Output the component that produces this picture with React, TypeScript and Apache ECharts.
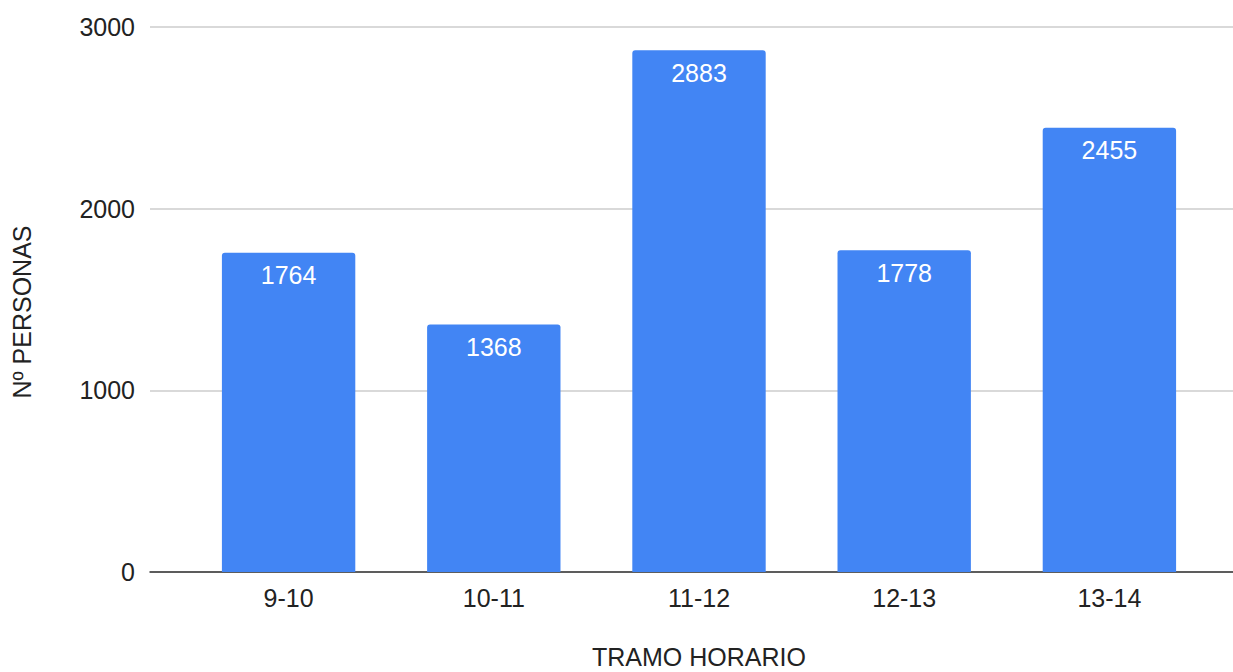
import React, { useEffect, useRef } from "react";
import * as echarts from "echarts";

const categories = ["9-10", "10-11", "11-12", "12-13", "13-14"];
const personas = [1764, 1368, 2883, 1778, 2455];
const yTicks = { min: 0, max: 3000, interval: 1000 };
const xTitle = "TRAMO HORARIO";
const yTitle = "Nº PERSONAS";

const FONT = "'Liberation Sans', Arial, sans-serif";
const TEXT = "#222222";
const FS = 25;

export default function App() {
  const ref = useRef<HTMLDivElement>(null);
  useEffect(() => {
    if (!ref.current) return;
    const chart = echarts.init(ref.current, undefined, { renderer: "svg" });
    const bottom = 100;
    chart.setOption({
      animation: false,
      backgroundColor: "#ffffff",
      textStyle: { fontFamily: FONT },
      grid: [
        { left: 150, right: 0, top: 27, bottom, outerBoundsMode: "none", containLabel: false },
        { left: 186, right: 21, top: 29, bottom, outerBoundsMode: "none", containLabel: false },
      ],
      xAxis: [
        {
          gridIndex: 0,
          type: "value",
          min: 0,
          max: 1,
          axisLine: { show: true, lineStyle: { color: "#333333", width: 1.5 } },
          axisTick: { show: false },
          axisLabel: { show: false },
          splitLine: { show: false },
        },
        {
          gridIndex: 1,
          type: "category",
          data: categories,
          axisLine: { show: false },
          axisTick: { show: false },
          axisLabel: { fontSize: FS, color: TEXT, margin: 13, fontFamily: FONT },
          name: xTitle,
          nameLocation: "middle",
          nameGap: 85,
          nameTextStyle: { fontSize: FS, color: TEXT, fontFamily: FONT, verticalAlign: "middle" },
        },
      ],
      yAxis: [
        {
          gridIndex: 0,
          type: "value",
          min: yTicks.min,
          max: yTicks.max,
          interval: yTicks.interval,
          axisLine: { show: false },
          axisTick: { show: false },
          axisLabel: {
            fontSize: FS,
            color: TEXT,
            margin: 15,
            fontFamily: FONT,
            formatter: (v: number) => String(v),
          },
          splitLine: { show: true, lineStyle: { color: "#cccccc", width: 1.5 } },
        },
        {
          gridIndex: 1,
          type: "value",
          min: yTicks.min,
          max: yTicks.max,
          interval: yTicks.interval,
          show: false,
          splitLine: { show: false },
        },
      ],
      graphic: [
        {
          type: "text",
          x: 22,
          y: 312,
          rotation: Math.PI / 2,
          style: {
            text: yTitle,
            fontSize: FS,
            fontFamily: FONT,
            fill: TEXT,
            textAlign: "center",
            textVerticalAlign: "middle",
          },
        },
      ],
      series: [
        {
          type: "bar",
          xAxisIndex: 1,
          yAxisIndex: 1,
          data: personas,
          barWidth: "65%",
          itemStyle: { color: "#4285f4", borderRadius: [3, 3, 0, 0] },
          label: {
            show: true,
            position: "insideTop",
            distance: 10,
            color: "#ffffff",
            fontSize: FS,
            fontFamily: FONT,
          },
        },
      ],
    });
    return () => chart.dispose();
  }, []);
  return (
    <div
      ref={ref}
      style={{ position: "fixed", left: 0, top: 0, width: 1233, height: 672 }}
    />
  );
}
